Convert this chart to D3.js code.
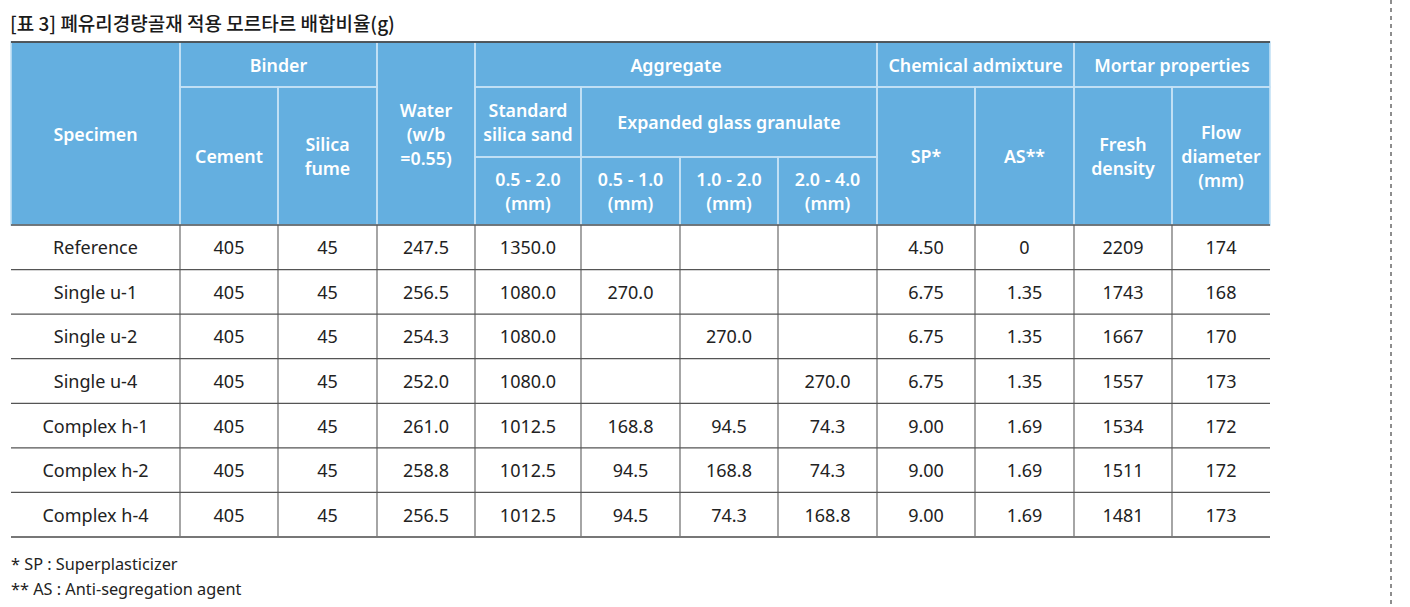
<!DOCTYPE html>
<html><head><meta charset="utf-8">
<script src="https://cdn.jsdelivr.net/npm/d3@7"></script>
<style>
html,body{margin:0;padding:0;background:#fff;}
svg{display:block;}
</style></head>
<body>
<svg id="chart" width="1410" height="607"></svg>
<script>
// ---- DATA ----
const title = "[표 3] 폐유리경량골재 적용 모르타르 배합비율(g)";
const specimens = ["Reference","Single u-1","Single u-2","Single u-4","Complex h-1","Complex h-2","Complex h-4"];
const cement = ["405","405","405","405","405","405","405"];
const silicaFume = ["45","45","45","45","45","45","45"];
const water = ["247.5","256.5","254.3","252.0","261.0","258.8","256.5"];
const silicaSand = ["1350.0","1080.0","1080.0","1080.0","1012.5","1012.5","1012.5"];
const glass05_10 = ["","270.0","","","168.8","94.5","94.5"];
const glass10_20 = ["","","270.0","","94.5","168.8","74.3"];
const glass20_40 = ["","","","270.0","74.3","74.3","168.8"];
const sp = ["4.50","6.75","6.75","6.75","9.00","9.00","9.00"];
const as = ["0","1.35","1.35","1.35","1.69","1.69","1.69"];
const density = ["2209","1743","1667","1557","1534","1511","1481"];
const flow = ["174","168","170","173","172","172","173"];
const footnotes = ["* SP : Superplasticizer","** AS : Anti-segregation agent"];

const columns = [specimens,cement,silicaFume,water,silicaSand,glass05_10,glass10_20,glass20_40,sp,as,density,flow];

// header cells: [text lines, col start, col end, row start, row end]
const headerCells = [
  [["Specimen"],0,1,0,3],
  [["Binder"],1,3,0,1],
  [["Cement"],1,2,1,3],
  [["Silica","fume"],2,3,1,3],
  [["Water","(w/b","=0.55)"],3,4,0,3],
  [["Aggregate"],4,8,0,1],
  [["Standard","silica sand"],4,5,1,2],
  [["Expanded glass granulate"],5,8,1,2],
  [["0.5 - 2.0","(mm)"],4,5,2,3],
  [["0.5 - 1.0","(mm)"],5,6,2,3],
  [["1.0 - 2.0","(mm)"],6,7,2,3],
  [["2.0 - 4.0","(mm)"],7,8,2,3],
  [["Chemical admixture"],8,10,0,1],
  [["SP*"],8,9,1,3],
  [["AS**"],9,10,1,3],
  [["Mortar properties"],10,12,0,1],
  [["Fresh","density"],10,11,1,3],
  [["Flow","diameter","(mm)"],11,12,1,3]
];

// ---- LAYOUT ----
const colEdges = [11,180,278,377,475,581,680,778,877,975,1074,1172,1270];
const headerEdges = [42,87,157,225];
const bodyTop = 225, bodyBottom = 537;
const font = "'Noto Sans', sans-serif";

const svg = d3.select("#chart");

const x = i => colEdges[i];
const hy = i => headerEdges[i];
const rowScale = d3.scaleBand().domain(d3.range(specimens.length)).range([bodyTop, bodyBottom]);

// title
svg.append("text").attr("x",10).attr("y",22).attr("dominant-baseline","central")
  .attr("font-family","'Noto Sans CJK KR', sans-serif").attr("font-size",19).attr("font-weight",500)
  .attr("fill","#1a1a1a").text(title);

// header background
svg.append("rect").attr("x",x(0)).attr("y",hy(0)).attr("width",x(12)-x(0)).attr("height",hy(3)-hy(0))
  .attr("fill","#64AFE0");

// header cell borders
const hg = svg.append("g");
headerCells.forEach(c=>{
  const [lines,c0,c1,r0,r1] = c;
  hg.append("rect").attr("x",x(c0)).attr("y",hy(r0)).attr("width",x(c1)-x(c0)).attr("height",hy(r1)-hy(r0))
    .attr("fill","none").attr("stroke","#c4e2f6").attr("stroke-width",1.6);
});
headerCells.forEach(c=>{
  const [lines,c0,c1,r0,r1] = c;
  const cx = (x(c0)+x(c1))/2, cy = (hy(r0)+hy(r1))/2;
  const lh = 24;
  lines.forEach((t,i)=>{
    hg.append("text").attr("x",cx).attr("y",cy + (i-(lines.length-1)/2)*lh)
      .attr("text-anchor","middle").attr("dominant-baseline","central")
      .attr("font-family",font).attr("font-size",17.8).attr("font-weight",600)
      .attr("fill","#fff").text(t);
  });
});

// body
const bg = svg.append("g");
colEdges.slice(1,-1).forEach(e=>{
  bg.append("line").attr("x1",e).attr("x2",e).attr("y1",bodyTop).attr("y2",bodyBottom)
    .attr("stroke","#6a6a6a").attr("stroke-width",1.2);
});
specimens.forEach((s,i)=>{
  if(i>0) bg.append("line").attr("x1",x(0)).attr("x2",x(12)).attr("y1",rowScale(i)).attr("y2",rowScale(i))
    .attr("stroke","#555").attr("stroke-width",1.2);
});
bg.append("line").attr("x1",x(0)).attr("x2",x(12)).attr("y1",bodyTop).attr("y2",bodyTop).attr("stroke","#555").attr("stroke-width",1.6);
bg.append("line").attr("x1",x(0)).attr("x2",x(12)).attr("y1",bodyBottom).attr("y2",bodyBottom).attr("stroke","#777").attr("stroke-width",2);
svg.append("line").attr("x1",x(0)).attr("x2",x(12)).attr("y1",hy(0)).attr("y2",hy(0)).attr("stroke","#2a2a2a").attr("stroke-width",1.6);

columns.forEach((col,ci)=>{
  col.forEach((v,ri)=>{
    if(v==="") return;
    bg.append("text").attr("x",(x(ci)+x(ci+1))/2).attr("y",rowScale(ri)+rowScale.bandwidth()/2)
      .attr("text-anchor","middle").attr("dominant-baseline","central")
      .attr("font-family",font).attr("font-size",18).attr("fill","#222").text(v);
  });
});

// footnotes
footnotes.forEach((f,i)=>{
  svg.append("text").attr("x",11).attr("y",564+i*25).attr("dominant-baseline","central")
    .attr("font-family",font).attr("font-size",16.3).attr("fill","#222").text(f);
});

// dashed side line
svg.append("line").attr("x1",1391).attr("x2",1391).attr("y1",0).attr("y2",607)
  .attr("stroke","#444").attr("stroke-width",1.2).attr("stroke-dasharray","4,4");
</script>
</body></html>
